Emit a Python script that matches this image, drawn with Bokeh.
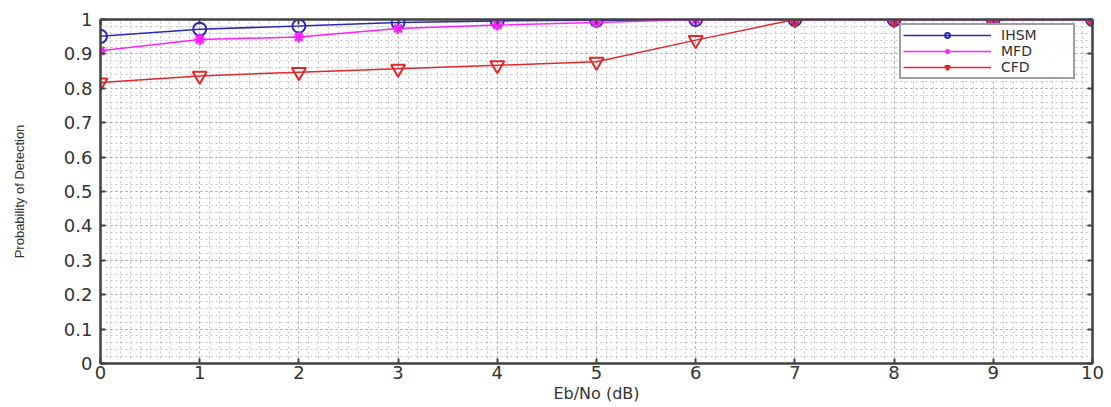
from bokeh.plotting import figure
from bokeh.models import FixedTicker, LinearAxis, Range1d, Legend, LegendItem
from bokeh.embed import file_html
from bokeh.resources import INLINE

ebno = [0, 1, 2, 3, 4, 5, 6, 7, 8, 9, 10]
ihsm = [0.951, 0.972, 0.981, 0.991, 0.996, 0.998, 1.0, 1.0, 1.0, 1.0, 1.0]
mfd = [0.909, 0.942, 0.949, 0.974, 0.984, 0.991, 1.0, 1.0, 1.0, 1.0, 1.0]
cfd = [0.817, 0.836, 0.847, 0.857, 0.867, 0.877, 0.94, 1.0, 1.0, 1.0, 1.0]
x_ticks = list(range(0, 11))
y_ticks = [round(i * 0.1, 1) for i in range(11)]

FONT = "DejaVu Sans"
AX = "#404040"

p = figure(width=1104, height=405, output_backend="svg", toolbar_location=None,
           x_range=Range1d(0, 10), y_range=Range1d(0, 1),
           min_border_left=100, min_border_right=12, min_border_top=19, min_border_bottom=39)
p.outline_line_color = AX
p.outline_line_width = 2

xt = FixedTicker(ticks=x_ticks, minor_ticks=[i * 0.1 for i in range(101)])
yt = FixedTicker(ticks=y_ticks, minor_ticks=[i * 0.02 for i in range(51)])

for ax in p.xaxis + p.yaxis:
    ax.axis_line_color = AX
    ax.axis_line_width = 2
    ax.major_tick_in = 5
    ax.major_tick_out = 0
    ax.minor_tick_in = 0
    ax.minor_tick_out = 0
    ax.major_tick_line_color = AX
    ax.major_tick_line_width = 2
    ax.major_label_text_font = FONT
    ax.major_label_text_font_size = "18px"
    ax.major_label_text_color = "#333333"
    ax.axis_label_text_font_style = "normal"
    ax.axis_label_text_color = "#333333"

p.xaxis.ticker = xt
p.yaxis.ticker = yt
p.xaxis.axis_label = "Eb/No (dB)"
p.xaxis.axis_label_text_font = FONT
p.xaxis.axis_label_text_font_size = "16px"
p.xaxis.axis_label_standoff = 2
p.xaxis.major_label_standoff = 2
p.yaxis.axis_label = "Probability of Detection"
p.yaxis.axis_label_text_font = "Liberation Sans"
p.yaxis.axis_label_text_font_size = "13px"
p.yaxis.axis_label_standoff = 34
p.yaxis.major_label_standoff = 8

for pos, dim in (("right", "y"), ("above", "x")):
    ax = LinearAxis(ticker=yt if dim == "y" else xt)
    ax.major_label_text_font_size = "0px"
    ax.major_label_text_color = None
    ax.axis_line_color = AX
    ax.axis_line_width = 2
    ax.major_tick_in = 5
    ax.major_tick_out = 0
    ax.minor_tick_in = 0
    ax.minor_tick_out = 0
    ax.major_tick_line_color = AX
    ax.major_tick_line_width = 2
    ax.major_label_standoff = 0
    p.add_layout(ax, pos)

p.xgrid.ticker = xt
p.ygrid.ticker = yt
for g in (p.xgrid, p.ygrid):
    g.grid_line_color = "#a8a8a8"
    g.grid_line_dash = "2 3"
    g.grid_line_width = 1
    g.minor_grid_line_color = "#c4c4c4"
    g.minor_grid_line_dash = "2 3"
    g.minor_grid_line_width = 1

c_ihsm = "#2a2ab8"
c_mfd = "#ff20ff"
c_cfd = "#e02828"

l1 = p.line(ebno, ihsm, line_color=c_ihsm, line_width=1.5)
s1 = p.scatter(ebno, ihsm, marker="circle", size=13, line_color=c_ihsm, fill_color=None, line_width=2)
l2 = p.line(ebno, mfd, line_color=c_mfd, line_width=1.5)
s2 = p.scatter(ebno, mfd, marker="asterisk", size=11, line_color=c_mfd, line_width=2.5)
l3 = p.line(ebno, cfd, line_color=c_cfd, line_width=1.5)
s3 = p.scatter(ebno, cfd, marker="inverted_triangle", size=14, line_color=c_cfd, fill_color=None, line_width=2)

legend = Legend(items=[
    LegendItem(label="IHSM", renderers=[l1, s1]),
    LegendItem(label="MFD", renderers=[l2, s2]),
    LegendItem(label="CFD", renderers=[l3, s3]),
], location=(799, 284))
legend.label_text_font = FONT
legend.label_text_font_size = "14px"
legend.label_text_color = "#333333"
legend.border_line_color = AX
legend.border_line_width = 2
legend.glyph_width = 88
legend.glyph_height = 12
legend.spacing = -4
legend.padding = 2
legend.margin = 0
legend.label_standoff = 10
legend.label_height = 12
legend.label_width = 70
legend.background_fill_color = "white"
p.add_layout(legend)

open("out.html", "w").write(file_html(p, INLINE))
